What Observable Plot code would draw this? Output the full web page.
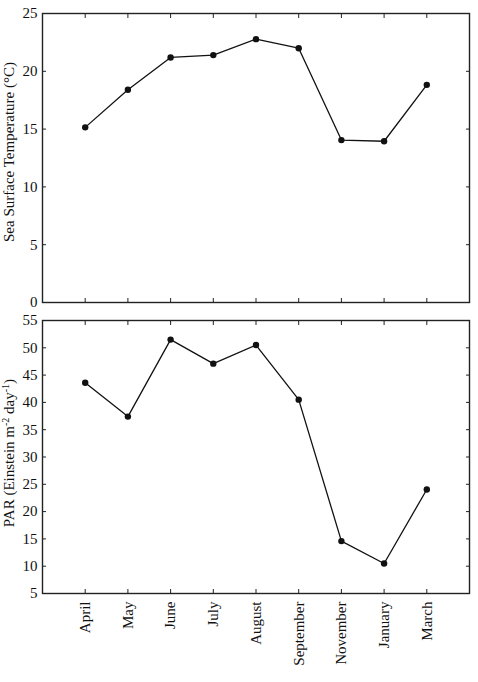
<!DOCTYPE html>
<html>
<head>
<meta charset="utf-8">
<script src="https://cdn.jsdelivr.net/npm/d3@7"></script>
<script src="https://cdn.jsdelivr.net/npm/@observablehq/plot@0.6"></script>
<style>
  html, body { margin: 0; padding: 0; background: #fff; }
  #chart svg { display: block; }
</style>
</head>
<body>
<div id="chart"></div>
<script>
const months = ["April", "May", "June", "July", "August", "September", "November", "January", "March"];
const sst = [15.15, 18.4, 21.2, 21.4, 22.78, 22.0, 14.05, 13.95, 18.83];
const par = [43.6, 37.4, 51.5, 47.1, 50.5, 40.5, 14.6, 10.5, 24.05];
const sstTicks = [0, 5, 10, 15, 20, 25];
const parTicks = [5, 10, 15, 20, 25, 30, 35, 40, 45, 50, 55];
const sstLabel = "Sea Surface Temperature (°C)";
const parLabelParts = [["PAR (Einstein m", false], ["-2", true], [" day", false], ["-1", true], [")", false]];

const positions = months.map((m, i) => i + 1);
const data = months.map((m, i) => ({pos: i + 1, month: m, sst: sst[i], par: par[i]}));

const font = {fontFamily: "'Liberation Serif', 'Times New Roman', serif", fontSize: "15px", color: "#111", background: "#fff"};

function panel({y, domain, ticks, label, height, marginTop, marginBottom, showX, cls, dy}) {
  return Plot.plot({
    width: 478,
    height,
    marginLeft: 42,
    marginRight: 9,
    marginTop,
    marginBottom,
    style: font,
    x: {type: "linear", domain: [0, 10]},
    y: {domain},
    marks: [
      Plot.axisY(ticks, {anchor: "left", tickSize: -4, tickFormat: () => "", label: null, stroke: "#222"}),
      Plot.axisY(ticks, {anchor: "right", tickSize: -4, tickFormat: () => "", label: null, stroke: "#222"}),
      Plot.axisY(ticks, {anchor: "left", tickSize: 0, tickPadding: 5, label: null, fill: "#111", fontSize: 15}),
      Plot.axisX(positions, {anchor: "top", tickSize: -4, tickFormat: () => "", label: null, stroke: "#222"}),
      Plot.axisX(positions, {anchor: "bottom", tickSize: -4, tickFormat: () => "", label: null, stroke: "#222"}),
      showX ? Plot.axisX(positions, {anchor: "bottom", tickSize: 0, tickPadding: 8, tickRotate: -90, tickFormat: (i) => months[i - 1], label: null, fill: "#111", fontSize: 15}) : null,
      Plot.frame({stroke: "#222", strokeWidth: 1.4}),
      Plot.line(data, {x: "pos", y, stroke: "#111", strokeWidth: 1.3}),
      Plot.dot(data, {x: "pos", y, r: 3.2, fill: "#111"}),
      Plot.text([label], {frameAnchor: "left", textAnchor: "middle", lineAnchor: "middle", rotate: -90, dx: -33, dy, fill: "#111", fontSize: 15, className: cls})
    ]
  });
}

const topPanel = panel({y: "sst", domain: [0, 25], ticks: sstTicks, label: sstLabel, height: 310, marginTop: 13, marginBottom: 8, showX: false, cls: "lab-sst", dy: -6});
const bottomPanel = panel({y: "par", domain: [5, 55], ticks: parTicks, label: parLabelParts.map(d => d[0]).join(""), height: 372, marginTop: 10, marginBottom: 89, showX: true, cls: "lab-par", dy: -4});

const chart = document.getElementById("chart");
chart.appendChild(topPanel);
chart.appendChild(bottomPanel);

// Render superscripts in the PAR label
const t = d3.select(bottomPanel).select("g.lab-par text");
if (!t.empty()) {
  t.text(null);
  for (const [s, sup] of parLabelParts) {
    const ts = t.append("tspan").text(s);
    if (sup) ts.attr("baseline-shift", "super").attr("font-size", 10);
  }
}
</script>
</body>
</html>
